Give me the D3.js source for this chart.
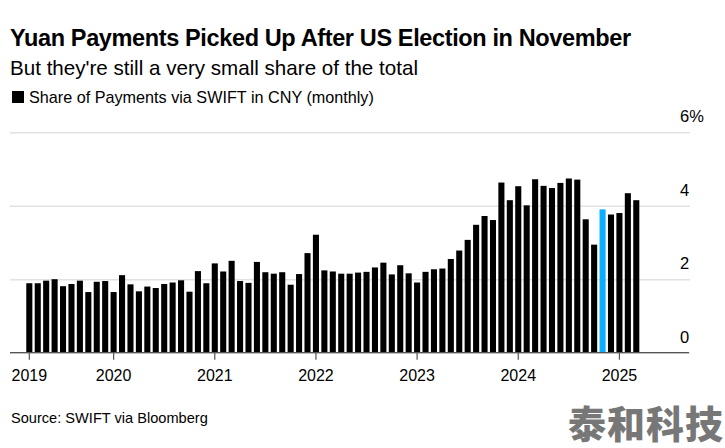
<!DOCTYPE html>
<html>
<head>
<meta charset="utf-8">
<script src="https://cdn.jsdelivr.net/npm/d3@7"></script>
<style>
	html, body { margin: 0; padding: 0; background: #fff; }
	svg { display: block; }
	text { font-family: "Liberation Sans", Arial, sans-serif; fill: #000; }
</style>
</head>
<body>
<svg id="chart" width="725" height="448"></svg>
<script>
// monthly share of payments, Mar 2019 to Mar 2025
var shares2019 = [1.89, 1.89, 1.96, 2.00, 1.81, 1.87, 1.96, 1.65, 1.93, 1.95];
var shares2020 = [1.65, 2.11, 1.86, 1.67, 1.80, 1.76, 1.87, 1.91, 1.97, 1.66, 2.22, 1.89];
var shares2021 = [2.43, 2.21, 2.50, 1.95, 1.90, 2.47, 2.19, 2.15, 2.19, 1.85, 2.14, 2.71];
var shares2022 = [3.21, 2.24, 2.21, 2.15, 2.15, 2.18, 2.20, 2.32, 2.45, 2.13, 2.38, 2.16];
var shares2023 = [1.91, 2.20, 2.27, 2.29, 2.55, 2.78, 3.07, 3.48, 3.72, 3.61, 4.63, 4.15];
var shares2024 = [4.53, 4.01, 4.72, 4.54, 4.48, 4.62, 4.74, 4.71, 3.63, 2.94, 3.90, 3.76];
var shares2025 = [3.80, 4.34, 4.15];

var yearLabels = ["2019", "2020", "2021", "2022", "2023", "2024", "2025"];
var yearTicks = ["2019-03", "2020-01", "2021-01", "2022-01", "2023-01", "2024-01", "2025-01"];
var yTicks = [0, 2, 4, 6];
var highlightMonth = "2024-11";

var shares = [].concat(shares2019, shares2020, shares2021, shares2022, shares2023, shares2024, shares2025);
var monthKey = d3.timeFormat("%Y-%m");
var months = d3.timeMonth.range(new Date(2019, 2, 1), new Date(2025, 3, 1)).map(monthKey);

var svg = d3.select("#chart");

var x = d3.scaleBand()
	.domain(months)
	.range([25.1, 640.5])
	.paddingInner(0.28)
	.paddingOuter(0.14);

var y = d3.scaleLinear()
	.domain([0, 6])
	.range([352.7, 132.2]);

// gridlines and right hand labels
var yAxis = d3.axisRight(y)
	.tickValues(yTicks)
	.tickSize(680)
	.tickFormat(function (d) { return d === 6 ? "6%" : d; });

var yGroup = svg.append("g")
	.attr("transform", "translate(10,0)")
	.call(yAxis);
yGroup.select(".domain").remove();
yGroup.selectAll(".tick line")
	.attr("stroke", "#e2e2e2")
	.attr("stroke-width", 1.4);
yGroup.selectAll(".tick text")
	.attr("x", 670)
	.attr("dy", "-0.62em")
	.attr("font-size", 16.5)
	.attr("text-anchor", "start");

// bars
svg.append("g").selectAll("rect")
	.data(shares)
	.enter()
	.append("rect")
	.attr("x", function (d, i) { return x(months[i]); })
	.attr("y", function (d) { return y(d); })
	.attr("width", x.bandwidth())
	.attr("height", function (d) { return y(0) - y(d); })
	.attr("fill", function (d, i) { return months[i] === highlightMonth ? "#0aaeff" : "#000"; });

// time axis
var xAxis = d3.axisBottom(x)
	.tickValues(yearTicks)
	.tickSize(7)
	.tickSizeOuter(0)
	.tickFormat(function (d, i) { return yearLabels[i]; });

var xGroup = svg.append("g")
	.attr("transform", "translate(0," + y(0) + ")")
	.call(xAxis);
xGroup.select(".domain").remove();
xGroup.append("line")
	.attr("x1", 10)
	.attr("x2", 689)
	.attr("stroke", "#555")
	.attr("stroke-width", 1.2);
xGroup.selectAll(".tick line").attr("stroke", "#555").attr("stroke-width", 1.2);
xGroup.selectAll(".tick text")
	.attr("y", 17)
	.attr("font-size", 16)
	.attr("fill", "#000");

// headings
svg.append("text")
	.attr("x", 10)
	.attr("y", 46)
	.attr("font-size", 23.5)
	.attr("font-weight", "bold")
	.attr("letter-spacing", -0.37)
	.text("Yuan Payments Picked Up After US Election in November");

svg.append("text")
	.attr("x", 10)
	.attr("y", 75)
	.attr("font-size", 20.6)
	.text("But they're still a very small share of the total");

// legend
svg.append("rect")
	.attr("x", 12)
	.attr("y", 91)
	.attr("width", 12)
	.attr("height", 12)
	.attr("fill", "#000");

svg.append("text")
	.attr("x", 29)
	.attr("y", 103)
	.attr("font-size", 16.2)
	.text("Share of Payments via SWIFT in CNY (monthly)");

svg.append("text")
	.attr("x", 11)
	.attr("y", 423)
	.attr("font-size", 14.6)
	.text("Source: SWIFT via Bloomberg");

// watermark
svg.append("text")
	.attr("x", 568)
	.attr("y", 438)
	.attr("font-size", 38)
	.attr("font-weight", "900")
	.attr("letter-spacing", 1)
	.style("font-family", "'Noto Sans CJK SC'")
	.style("fill", "#777")
	.text("泰和科技");
</script>
</body>
</html>
